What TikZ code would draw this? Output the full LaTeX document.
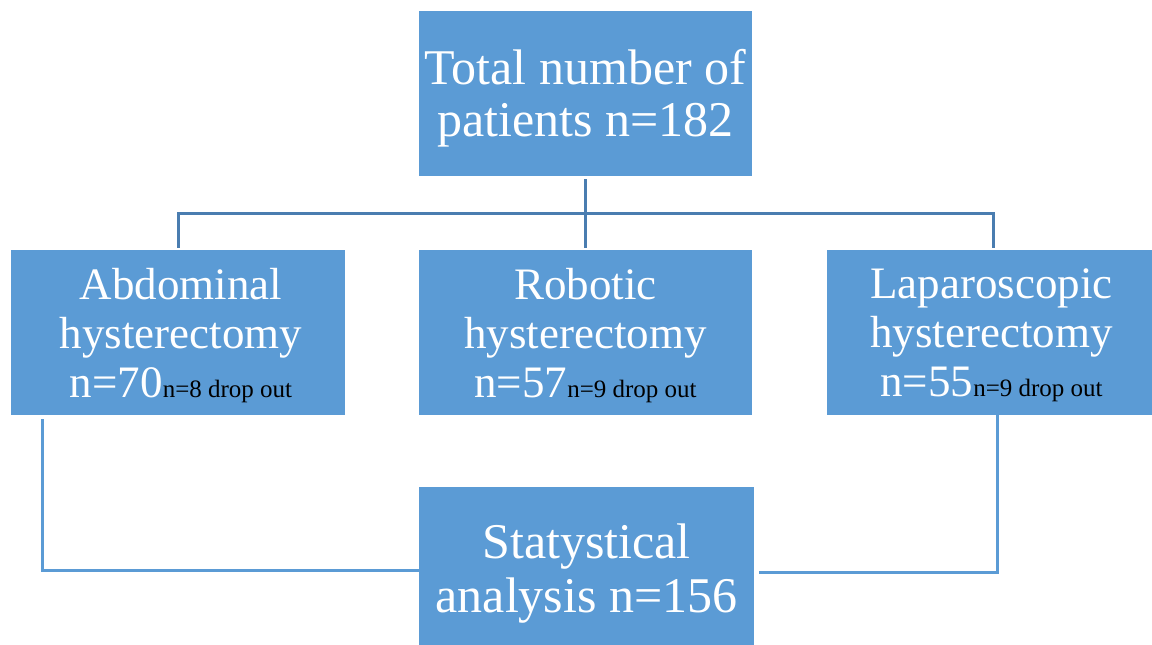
\documentclass[tikz,border=0pt]{standalone}
\usepackage{fontspec}
\setmainfont{Liberation Serif}
\definecolor{boxblue}{HTML}{5B9BD5}
\definecolor{darkline}{HTML}{4A7DB0}
\begin{document}
\begin{tikzpicture}[x=1pt,y=-1pt,
  box/.style={fill=boxblue, draw=none, inner sep=0pt},
  txt/.style={inner sep=0pt, text=white, align=center},
  bigtxt/.style={font=\fontsize{50}{52}\selectfont},
  midtxt/.style={font=\fontsize{45}{49}\selectfont},
  topconn/.style={draw=darkline, line width=3pt},
  botconn/.style={draw=boxblue, line width=3pt},
]
\useasboundingbox (0,0) rectangle (1152,645);
\newcommand{\dropout}[1]{{\fontsize{25}{25}\selectfont\color{black}#1}}
\node[box, minimum width=333pt, minimum height=165pt] (top) at (585.5,93.5) {};
\node[box, minimum width=334pt, minimum height=165pt] (left) at (178,332.5) {};
\node[box, minimum width=333pt, minimum height=165pt] (mid) at (585.5,332.5) {};
\node[box, minimum width=325pt, minimum height=165pt] (right) at (989.5,332.5) {};
\node[box, minimum width=335pt, minimum height=158pt] (bot) at (586.5,566) {};
\node[txt, bigtxt] (topT) at ([yshift=-5pt]top.center) {Total number of\\patients n=182};
\node[txt, midtxt] (leftT) at ([xshift=3pt,yshift=-3pt]left.center) {Abdominal\\hysterectomy\\n=70\dropout{n=8 drop out}};
\node[txt, midtxt] (midT) at ([yshift=-3pt]mid.center) {Robotic\\hysterectomy\\n=57\dropout{n=9 drop out}};
\node[txt, midtxt] (rightT) at ([xshift=2pt,yshift=-3pt]right.center) {Laparoscopic\\hysterectomy\\n=55\dropout{n=9 drop out}};
\node[txt, font=\fontsize{50}{54}\selectfont] (botT) at ([yshift=-8pt]bot.center) {Statystical\\analysis n=156};
\coordinate (jl) at (178,213);
\coordinate (jr) at (993,213);
\draw[topconn] ([yshift=-3pt]top.south) -- ([yshift=2pt]mid.north);
\draw[topconn] ([yshift=2pt]left.north) -- (jl) -- (jr) -- ([xshift=3.5pt,yshift=2pt]right.north);
\draw[botconn] ([xshift=32pt,yshift=-4pt]left.south west) |- ([yshift=-4pt]bot.west);
\draw[botconn] ([xshift=7.5pt]right.south) |- ([xshift=5pt,yshift=-6pt]bot.east);
\end{tikzpicture}
\end{document}
